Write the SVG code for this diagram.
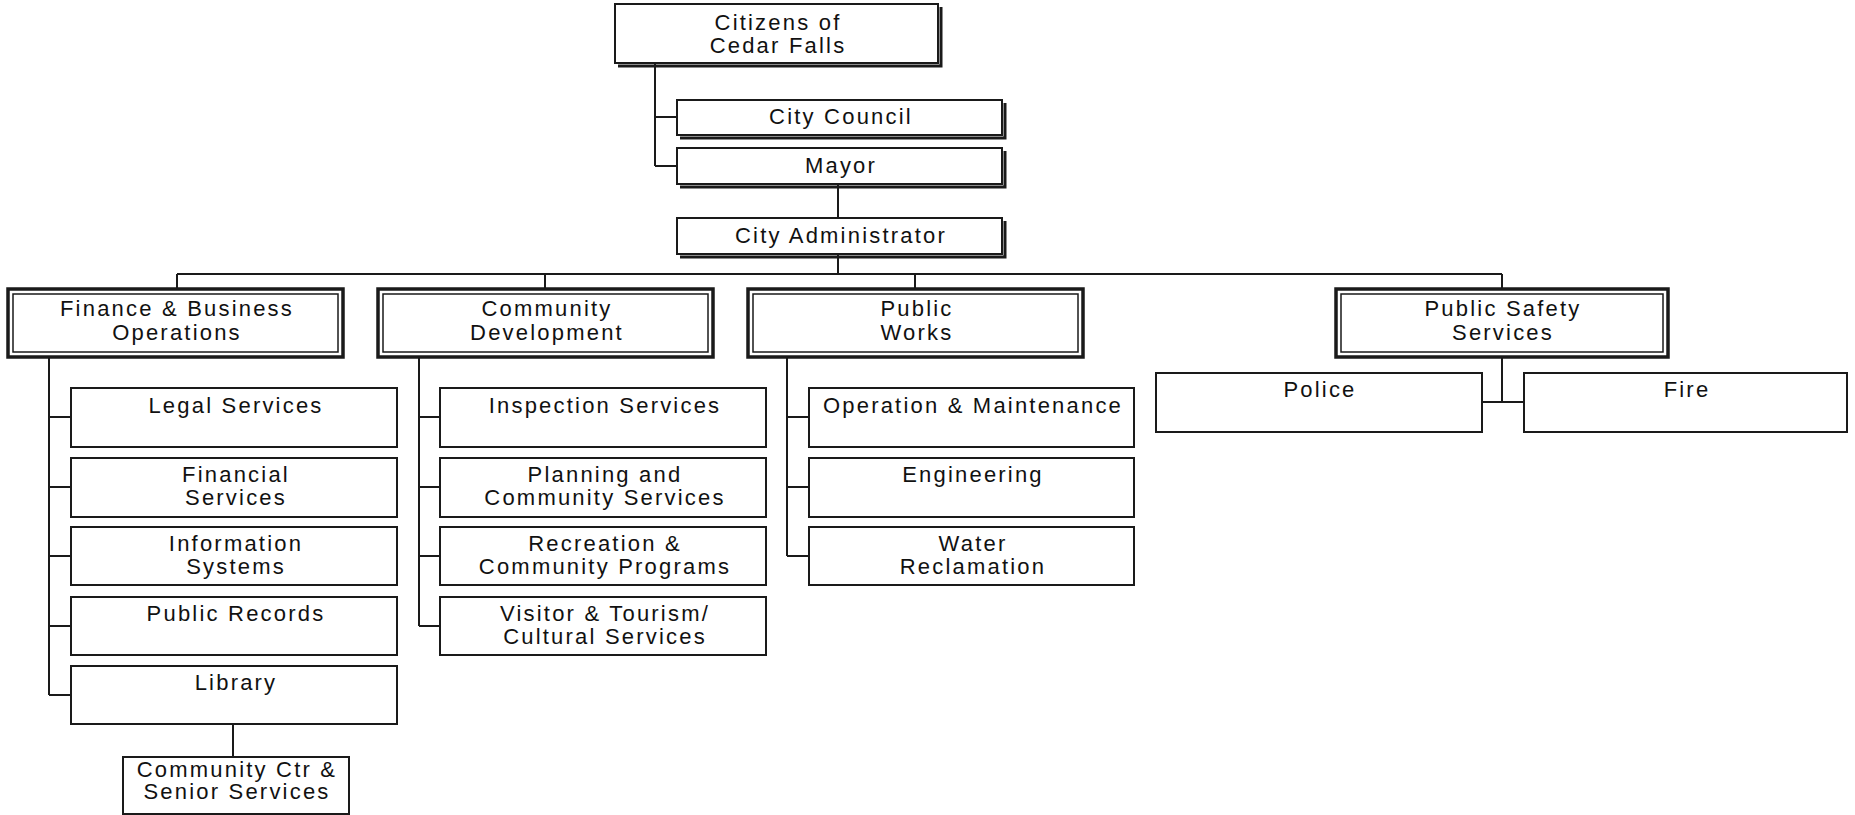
<svg xmlns="http://www.w3.org/2000/svg" width="1855" height="815" viewBox="0 0 1855 815">
<style>
text{font-family:"Liberation Sans",Arial,sans-serif;font-size:22px;letter-spacing:2.2px;fill:#111;text-anchor:middle}
.box{fill:#fff;stroke:#1a1a1a;stroke-width:2}
.sh{fill:none;stroke:#1a1a1a;stroke-width:3}
.outer{fill:#fff;stroke:#1a1a1a;stroke-width:3.5}
.inner{fill:none;stroke:#1a1a1a;stroke-width:1.5}
.ln{fill:none;stroke:#1a1a1a;stroke-width:2}
</style>
<rect width="1855" height="815" fill="#fff"/>
<g id="connectors">
<path class="ln" d="M655 63V166M655 117H677M655 166H677"/>
<path class="ln" d="M838 184V218M838 254V274M177 274H1502M177 274V289M545 274V289M915 274V289M1502 274V289"/>
<path class="ln" d="M49 357V695M49 417H71M49 487H71M49 556H71M49 626H71M49 695H71M233 724V757"/>
<path class="ln" d="M419 357V626M419 417H440M419 487H440M419 556H440M419 626H440"/>
<path class="ln" d="M787 357V556M787 417H809M787 487H809M787 556H809"/>
<path class="ln" d="M1502 357V402M1482 402H1524"/>
</g>
<g id="citizens">
<path class="sh" d="M941 7V66H618"/>
<rect class="box" x="615" y="4" width="323" height="59"/>
<text x="778" y="30">Citizens of</text><text x="778" y="53">Cedar Falls</text>
</g>
<g id="council">
<path class="sh" d="M1005 103V138H680"/>
<rect class="box" x="677" y="100" width="325" height="35"/>
<text x="841" y="124">City Council</text>
</g>
<g id="mayor">
<path class="sh" d="M1005 151V187H680"/>
<rect class="box" x="677" y="148" width="325" height="36"/>
<text x="841" y="173">Mayor</text>
</g>
<g id="administrator">
<path class="sh" d="M1005 221V257H680"/>
<rect class="box" x="677" y="218" width="325" height="36"/>
<text x="841" y="243">City Administrator</text>
</g>
<g id="finance">
<rect class="outer" x="8" y="289" width="335" height="68"/>
<rect class="inner" x="13" y="294" width="325" height="58"/>
<text x="177" y="316">Finance &amp; Business</text><text x="177" y="340">Operations</text>
</g>
<g id="community-development">
<rect class="outer" x="378" y="289" width="335" height="68"/>
<rect class="inner" x="383" y="294" width="325" height="58"/>
<text x="547" y="316">Community</text><text x="547" y="340">Development</text>
</g>
<g id="public-works">
<rect class="outer" x="748" y="289" width="335" height="68"/>
<rect class="inner" x="753" y="294" width="325" height="58"/>
<text x="917" y="316">Public</text><text x="917" y="340">Works</text>
</g>
<g id="public-safety">
<rect class="outer" x="1336" y="289" width="332" height="68"/>
<rect class="inner" x="1341" y="294" width="322" height="58"/>
<text x="1503" y="316">Public Safety</text><text x="1503" y="340">Services</text>
</g>
<g id="legal"><rect class="box" x="71" y="388" width="326" height="59"/><text x="236" y="413">Legal Services</text></g>
<g id="financial"><rect class="box" x="71" y="458" width="326" height="59"/><text x="236" y="482">Financial</text><text x="236" y="505">Services</text></g>
<g id="information"><rect class="box" x="71" y="527" width="326" height="58"/><text x="236" y="551">Information</text><text x="236" y="574">Systems</text></g>
<g id="records"><rect class="box" x="71" y="597" width="326" height="58"/><text x="236" y="621">Public Records</text></g>
<g id="library"><rect class="box" x="71" y="666" width="326" height="58"/><text x="236" y="690">Library</text></g>
<g id="community-center"><rect class="box" x="123" y="757" width="226" height="57"/><text x="237" y="777">Community Ctr &amp;</text><text x="237" y="799">Senior Services</text></g>
<g id="inspection"><rect class="box" x="440" y="388" width="326" height="59"/><text x="605" y="413">Inspection Services</text></g>
<g id="planning"><rect class="box" x="440" y="458" width="326" height="59"/><text x="605" y="482">Planning and</text><text x="605" y="505">Community Services</text></g>
<g id="recreation"><rect class="box" x="440" y="527" width="326" height="58"/><text x="605" y="551">Recreation &amp;</text><text x="605" y="574">Community Programs</text></g>
<g id="visitor"><rect class="box" x="440" y="597" width="326" height="58"/><text x="605" y="621">Visitor &amp; Tourism/</text><text x="605" y="644">Cultural Services</text></g>
<g id="operation"><rect class="box" x="809" y="388" width="325" height="59"/><text x="973" y="413">Operation &amp; Maintenance</text></g>
<g id="engineering"><rect class="box" x="809" y="458" width="325" height="59"/><text x="973" y="482">Engineering</text></g>
<g id="water"><rect class="box" x="809" y="527" width="325" height="58"/><text x="973" y="551">Water</text><text x="973" y="574">Reclamation</text></g>
<g id="police"><rect class="box" x="1156" y="373" width="326" height="59"/><text x="1320" y="397">Police</text></g>
<g id="fire"><rect class="box" x="1524" y="373" width="323" height="59"/><text x="1687" y="397">Fire</text></g>
</svg>
